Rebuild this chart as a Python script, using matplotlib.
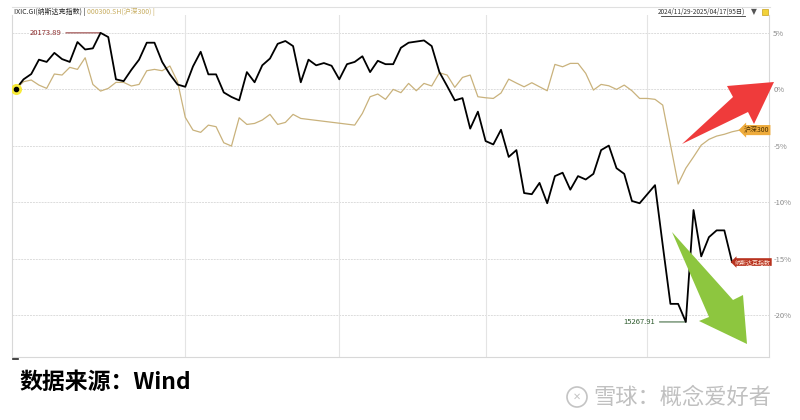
import numpy as np
import matplotlib
matplotlib.use('Agg')
import matplotlib.pyplot as plt
from matplotlib.patches import Polygon, Ellipse
from matplotlib.lines import Line2D

plt.rcParams['font.family'] = ['Noto Sans CJK SC', 'DejaVu Sans']
plt.rcParams['axes.unicode_minus'] = False

# cumulative change (%) since 2024/11/29, one value per Nasdaq trading day
nasdaq = [0.0, 0.86, 1.33, 2.6, 2.4, 3.2, 2.65, 2.4, 4.16, 3.5,
          3.6, 4.97, 4.6, 0.86, 0.7, 1.7, 2.6, 4.1, 4.1, 2.4,
          1.3, 0.4, 0.2, 2.0, 3.3, 1.3, 1.3, -0.3, -0.7, -1.0,
          1.5, 0.6, 2.1, 2.7, 4.0, 4.25, 3.8, 0.6, 2.6, 2.1,
          2.3, 2.06, 0.86, 2.2, 2.4, 2.9, 1.5, 2.5, 2.2, 2.2,
          3.65, 4.1, 4.2, 4.3, 3.8, 1.5, 0.27, -1.0, -0.8, -3.5,
          -2.0, -4.6, -4.9, -3.6, -6.0, -5.4, -9.2, -9.3, -8.3, -10.1,
          -7.7, -7.4, -8.9, -7.7, -8.0, -7.5, -5.4, -5.0, -7.0, -7.5,
          -9.9, -10.1, -9.3, -8.5, -13.8, -19.0, -19.0, -20.6, -10.7, -14.8,
          -13.1, -12.5, -12.5, -15.3]
nan = np.nan
hs300 = [0.0, 0.65, 0.8, 0.35, 0.06, 1.33, 1.24, 1.92, 1.74, 2.77,
         0.41, -0.18, 0.06, 0.59, 0.59, 0.27, 0.41, 1.62, 1.74, 1.62,
         2.04, 0.65, -2.5, -3.63, -3.83, -3.19, -3.33, -4.75, -5.04, -2.54,
         -3.13, -3.04, -2.74, -2.24, -3.13, -2.95, -2.24, -2.6, nan, nan,
         nan, nan, nan, nan, -3.19, -2.15, -0.68, -0.44, -0.91, -0.03,
         -0.32, 0.5, -0.15, 0.5, 0.27, 1.44, 1.24, 0.15, 1.03, 1.24,
         -0.68, -0.77, -0.83, -0.35, 0.88, 0.53, 0.2, 0.56, 0.2, -0.15,
         2.18, 1.97, 2.27, 2.27, 1.39, -0.09, 0.41, 0.29, -0.03, 0.35,
         -0.15, -0.83, -0.83, -0.91, -1.42, nan, -8.4, -7.0, -6.0, -4.96,
         -4.45, -4.16, -4.0, -3.78, -3.63]
month_start_idx = [22, 42, 61, 82]
y_ticks = [5, 0, -5, -10, -15, -20]
max_label = '20173.89'
min_label = '15267.91'

W, H = 800, 420
fig = plt.figure(figsize=(8, 4.2), dpi=100)
fig.patch.set_facecolor('white')


def px(x, y):
    return (x / W, 1 - y / H)


ax = fig.add_axes([12 / W, 1 - 357 / H, (769 - 12) / W, (357 - 15) / H])

x_n = np.arange(len(nasdaq))
x_h = np.arange(len(hs300))
hs = np.array(hs300)
ok = ~np.isnan(hs)

ax.plot(x_h[ok], hs[ok], color='#c9b27c', lw=0.9, zorder=3)
ax.plot(x_n, nasdaq, color='black', lw=1.3, zorder=4)

ax.set_xlim(-0.5, 97.8)
ax.set_ylim(-23.7, 6.55)

for v in y_ticks:
    ax.axhline(v, color='#dcdcdc', lw=0.7, ls=(0, (2, 1)), zorder=1)
for i in month_start_idx:
    ax.axvline(i, color='#e4e4e4', lw=0.8, zorder=1)

ax.yaxis.tick_right()
ax.set_yticks(y_ticks)
ax.set_yticklabels([f'{v}%' for v in y_ticks], color='#8a8a8a', fontsize=5.5)
ax.tick_params(axis='y', length=0, pad=3)
ax.set_xticks([])
for s in ['left', 'bottom', 'right']:
    ax.spines[s].set_color('#d8d8d8')
    ax.spines[s].set_linewidth(0.8)
ax.spines['top'].set_visible(False)

# start marker
ax.plot(0, 0, 'o', ms=8, color='#f7ea3a', zorder=5, mec='none')
ax.plot(0, 0, 'o', ms=3, color='black', zorder=6)

# max / min annotations
imax = int(np.argmax(nasdaq))
imin = int(np.argmin(nasdaq))
ax.annotate(max_label, xy=(imax, nasdaq[imax]), xytext=(-28, 0),
            textcoords='offset points', ha='right', va='center',
            fontsize=5.5, color='#8b2b2b',
            arrowprops=dict(arrowstyle='-', color='#8b2b2b', lw=0.7,
                            shrinkA=1, shrinkB=0))
ax.annotate(min_label, xy=(imin, nasdaq[imin]), xytext=(-22, 0),
            textcoords='offset points', ha='right', va='center',
            fontsize=5.5, color='#2e5b2e',
            arrowprops=dict(arrowstyle='-', color='#2e5b2e', lw=0.7,
                            shrinkA=1, shrinkB=0))

# series end labels
ax.annotate('沪深300', xy=(x_h[-1], hs[-1]), xytext=(3, 0),
            textcoords='offset points', ha='left', va='center',
            fontsize=5, color='#4a2f00', zorder=7,
            bbox=dict(boxstyle='larrow,pad=0.15', fc='#eeab3c', ec='none'))
ax.annotate('纳斯达克指数', xy=(x_n[-1], nasdaq[-1]), xytext=(2, 0),
            textcoords='offset points', ha='left', va='center',
            fontsize=4.3, color='#ffe8dc', zorder=7,
            bbox=dict(boxstyle='larrow,pad=0.15', fc='#b8321e', ec='none'))

# header
fig.add_artist(Line2D([12 / W, 770 / W], [1 - 7 / H, 1 - 7 / H],
                      color='#e0e0e0', lw=0.8))
t1 = fig.text(*px(14, 12), 'IXIC.GI(纳斯达克指数) | ', fontsize=5,
              color='#222222', va='center', ha='left')
fig.canvas.draw()
bb = t1.get_window_extent()
fig.text(bb.x1 / W, 1 - 12 / H, '000300.SH(沪深300) |', fontsize=5,
         color='#c8ae62', va='center', ha='left')
fig.text(*px(745, 12), '2024/11/29-2025/04/17(95日)', fontsize=4.6,
         color='#333333', va='center', ha='right')
fig.add_artist(Line2D([661 / W, 745 / W], [1 - 16 / H, 1 - 16 / H],
                      color='#333333', lw=0.6))
fig.text(*px(754, 12), '▼', fontsize=5.5, color='#555555',
         va='center', ha='center', family='DejaVu Sans')
fig.add_artist(Polygon([px(762, 9), px(768, 9), px(768, 15), px(762, 15)],
                       closed=True, fc='#f2d23a', ec='#c9a21c', lw=0.5,
                       transform=fig.transFigure))

# big trend arrows
red = [(682, 144), (748, 112), (754, 124), (774, 82), (727, 86), (733, 97)]
green = [(672, 232), (733, 300), (743, 295), (747, 344), (699, 321), (709, 317)]
fig.add_artist(Polygon([px(*p) for p in red], closed=True, fc='#ef3b3b',
                       ec='none', transform=fig.transFigure, zorder=10))
fig.add_artist(Polygon([px(*p) for p in green], closed=True, fc='#8dc63f',
                       ec='none', transform=fig.transFigure, zorder=10))

# footer
fig.add_artist(Line2D([13 / W, 18 / W], [1 - 359 / H, 1 - 359 / H],
                      color='#222222', lw=1.2))
fig.text(*px(19, 382), '数据来源：Wind', fontsize=16.5, fontweight='bold',
         color='black', va='center', ha='left')
fig.add_artist(Ellipse(px(577, 397), 20 / W, 20 / H, fc='none',
                       ec='#c4c4c4', lw=1.2, transform=fig.transFigure))
fig.text(*px(577, 397), '✕', fontsize=7, color='#c4c4c4', va='center',
         ha='center', family='DejaVu Sans')
fig.text(*px(593, 397), '雪球：概念爱好者', fontsize=16, color='#c0c0c0',
         va='center', ha='left')

fig.savefig('out.png', dpi=100)
